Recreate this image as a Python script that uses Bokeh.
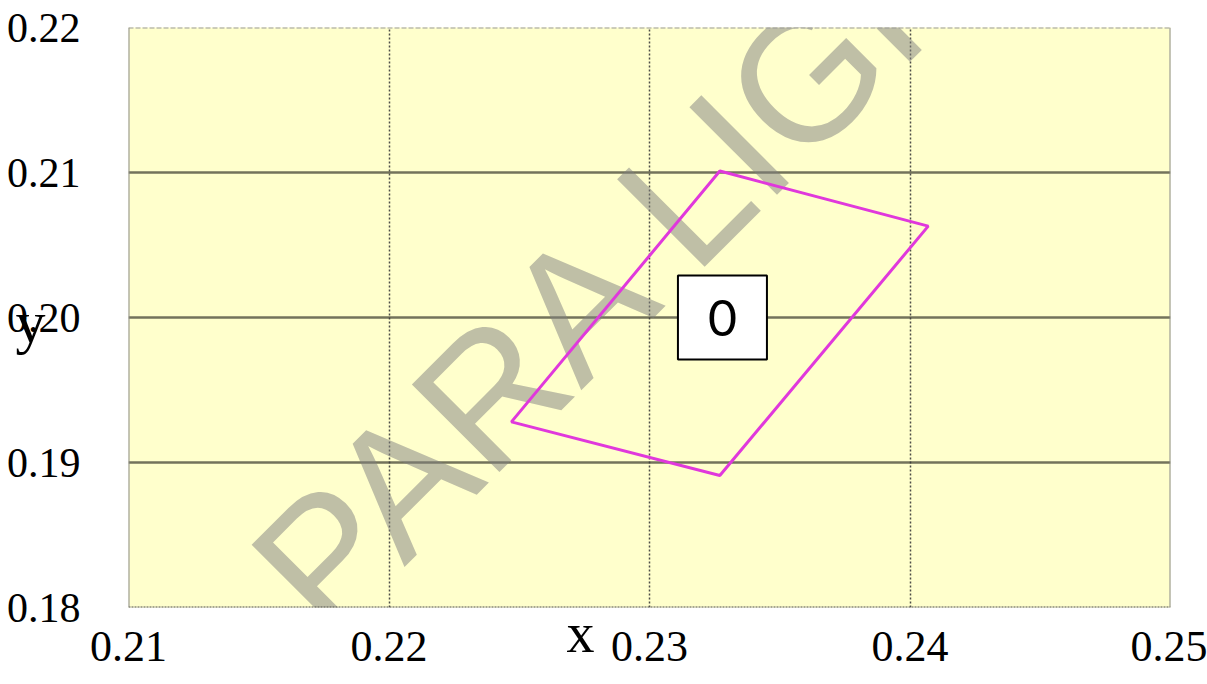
from bokeh.plotting import figure
from bokeh.models import Range1d, FixedTicker, Label, Span, LinearAxis, Grid
from bokeh.core.properties import value
from bokeh.embed import file_html
from bokeh.resources import INLINE

# ---- data ----
x_ticks = [0.21, 0.22, 0.23, 0.24, 0.25]
x_tick_labels = ["0.21", "0.22", "0.23", "0.24", "0.25"]
y_ticks = [0.18, 0.19, 0.20, 0.21, 0.22]
y_tick_labels = ["0.18", "0.19", "0.20", "0.21", "0.22"]
x_grid = [0.22, 0.23, 0.24]
y_grid = [0.19, 0.20, 0.21]

region_x = [0.2327, 0.2407, 0.2327, 0.2247]
region_y = [0.2101, 0.2063, 0.1891, 0.1928]

box_label = ["0"]
box_x = [0.2328]
box_y = [0.2000]

x_label_text = "x"
x_label_at = 0.22735
y_label_text = "y"
y_label_at = 0.19966

watermark_text = "PARA LIGHT"
watermark_at = (0.21599, 0.18062)

# ---- figure ----
p = figure(width=1207, height=684, title=None,
           x_range=Range1d(0.21, 0.25), y_range=Range1d(0.18, 0.22),
           x_axis_type=None, y_axis_type=None,
           output_backend="svg", toolbar_location=None,
           min_border_left=128, min_border_right=37,
           min_border_top=27, min_border_bottom=77)

p.background_fill_color = "#FFFFCC"
p.border_fill_color = "white"
p.outline_line_color = None


def plain_axis(ax, ticks, labels, size):
    ax.ticker = FixedTicker(ticks=ticks)
    ax.major_label_overrides = {t: l for t, l in zip(ticks, labels)}
    ax.major_tick_line_color = None
    ax.minor_tick_line_color = None
    ax.major_tick_out = 0
    ax.major_tick_in = 0
    ax.minor_tick_out = 0
    ax.minor_tick_in = 0
    ax.major_label_text_font = "Liberation Serif"
    ax.major_label_text_font_size = size
    ax.major_label_text_color = "black"


# main tick axes (inner panels)
xax = LinearAxis()
plain_axis(xax, x_ticks, x_tick_labels, "44px")
xax.major_label_standoff = 24
xax.axis_line_color = None
p.add_layout(xax, "below")

yax = LinearAxis()
plain_axis(yax, y_ticks, y_tick_labels, "42px")
yax.major_label_standoff = 48
yax.axis_line_color = None
p.add_layout(yax, "left")

# axis name labels ("x" beside 0.23, "y" over 0.20) -- outer panels pulled back
xlab = LinearAxis()
plain_axis(xlab, [x_label_at], [x_label_text], "56px")
xlab.axis_line_color = None
xlab.major_label_standoff = -62
p.add_layout(xlab, "below")

ylab = LinearAxis()
plain_axis(ylab, [y_label_at], [y_label_text], "60px")
ylab.axis_line_color = None
ylab.major_label_standoff = -42
p.add_layout(ylab, "left")

# frame borders
p.add_layout(Span(location=0.18, dimension="width", line_color="#505050",
                  line_width=2, line_dash="2 1"))
p.add_layout(Span(location=0.21, dimension="height", line_color="#8a8a8a",
                  line_width=2))
p.add_layout(Span(location=0.22, dimension="width", line_color="#9a9a9a",
                  line_width=2, line_dash="5 2"))
p.add_layout(Span(location=0.25, dimension="height", line_color="#8a8a8a",
                  line_width=2))

# grid
p.add_layout(Grid(dimension=1, ticker=FixedTicker(ticks=y_grid),
                  grid_line_color="#5a5a46", grid_line_width=2.5, grid_line_alpha=0.85))
p.add_layout(Grid(dimension=0, ticker=FixedTicker(ticks=x_grid),
                  grid_line_color="#3a3a3a", grid_line_width=1.5, grid_line_dash="2 2",
                  grid_line_alpha=0.9))

# watermark (drawn beneath the data marks)
p.add_layout(Label(x=watermark_at[0], y=watermark_at[1], text=watermark_text, angle=0.785,
                   text_font="Liberation Sans", text_font_size="180px",
                   text_color="#808080", text_alpha=0.5, level="underlay",
                   text_baseline="alphabetic", text_align="left"))

# region polygon
p.patch(region_x, region_y, fill_alpha=0, line_color="#E038DC", line_width=3)

# label box
p.rect(x=box_x, y=box_y, width=89, height=84, width_units="screen",
       height_units="screen", fill_color="white", line_color="black", line_width=2)
p.text(x=box_x, y=box_y, text=box_label, text_align="center", text_baseline="middle",
       text_font=value("Lato"), text_font_size="50px", text_color="black")

open("out.html", "w").write(file_html(p, INLINE))
